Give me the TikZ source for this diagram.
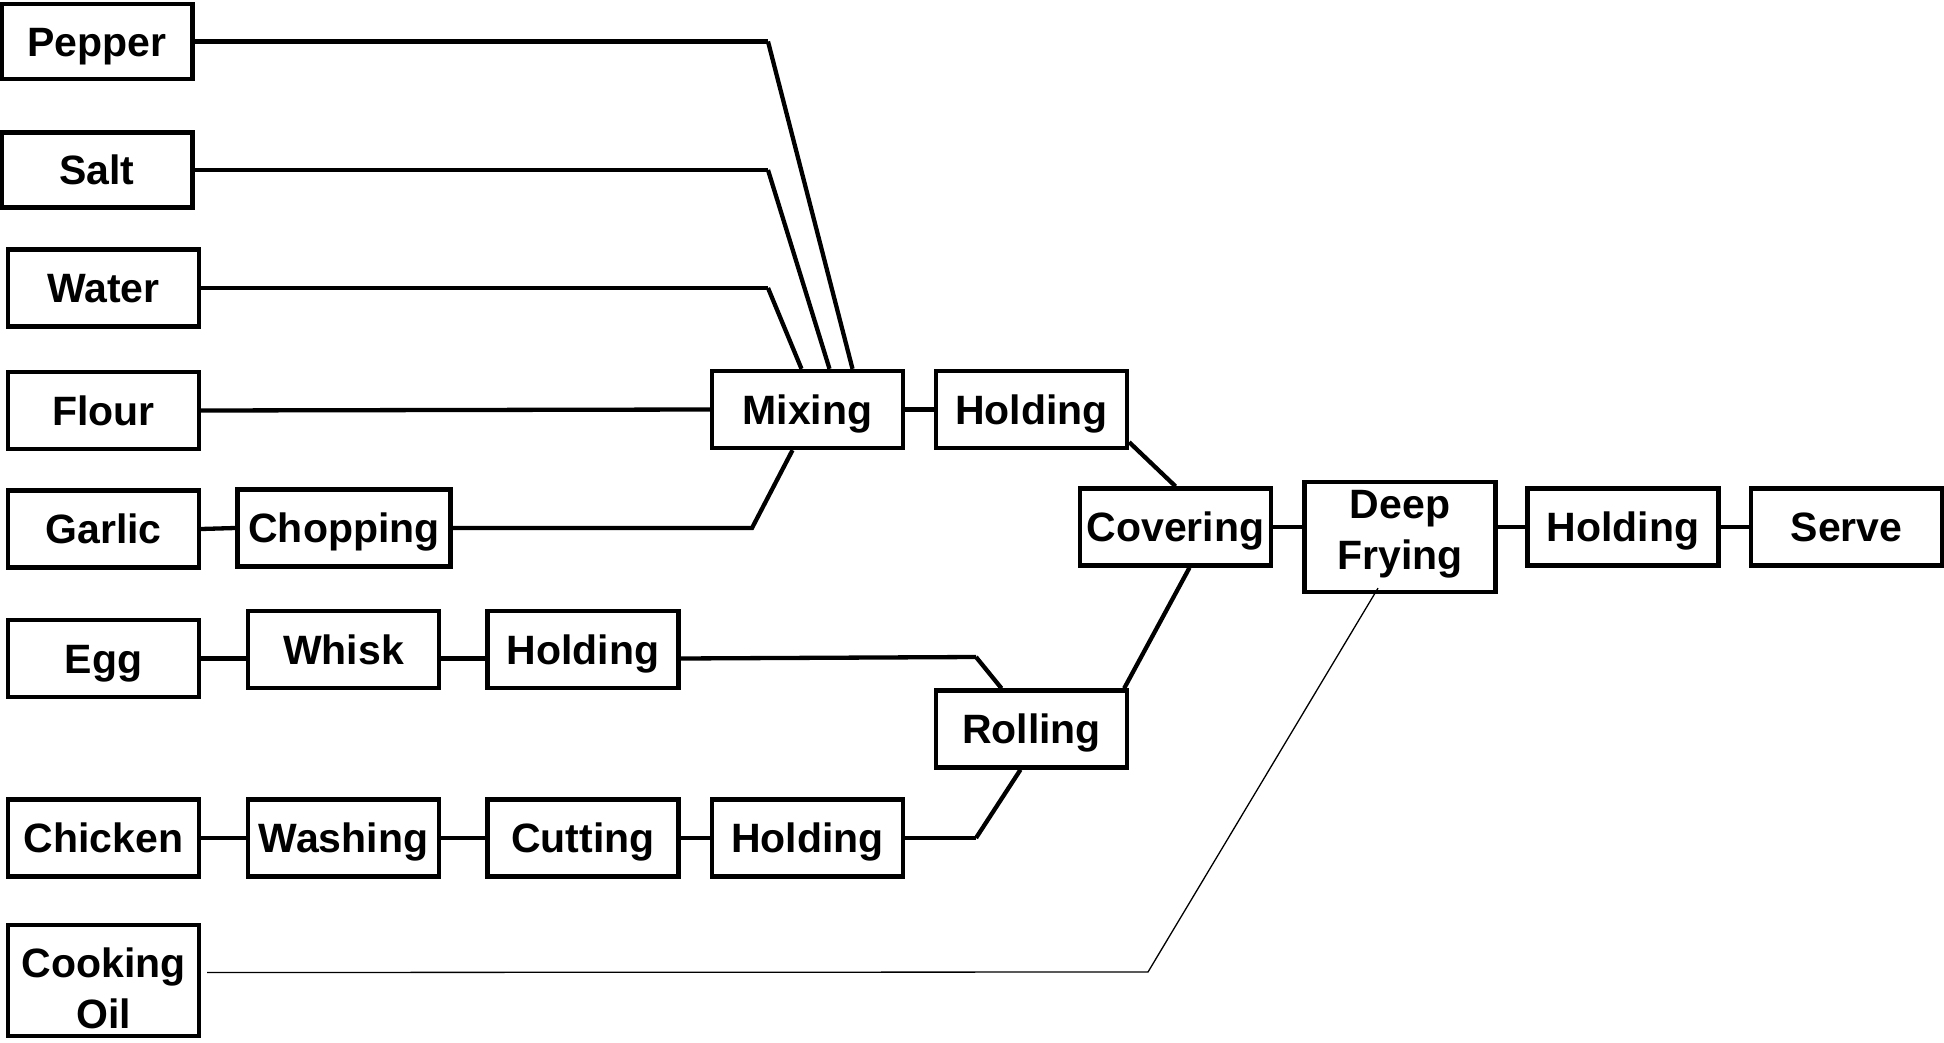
\documentclass[tikz,border=0pt]{standalone}
\usepackage{fontspec}
\setmainfont{Liberation Sans}
\begin{document}
\begin{tikzpicture}[x=1pt,y=-1pt,
  stepbox/.style={draw=black, line width=4.3pt, fill=white, inner sep=0pt,
    minimum width=191pt, minimum height=77pt, align=center,
    text height=29.5pt, text depth=0pt,
    font=\fontsize{41}{51}\selectfont\bfseries},
  link/.style={draw=black, line width=4.3pt},
  thinlink/.style={draw=black, line width=1.3pt}]
\useasboundingbox (0,0) rectangle (1944,1043);

% ingredient column
\node[stepbox, minimum height=75pt] (pepper)  at (97,41.5) {Pepper};
\node[stepbox, minimum height=75pt] (salt)    at (97,170)  {Salt};
\node[stepbox] (water)   at (103.5,288) {Water};
\node[stepbox] (flour)   at (103.5,410.5) {Flour};
\node[stepbox] (garlic)  at (103.5,529) {Garlic};
\node[stepbox] (egg)     at (103.5,658.5) {Egg};
\node[stepbox] (chicken) at (103.5,838) {Chicken};
\node[stepbox, text height=95.5pt, text depth=0pt, minimum height=111pt]
  (oil) at (103.5,980.5) {Cooking\\Oil};

% preparation steps
\node[stepbox, minimum width=213pt] (chopping) at (344,528) {Chopping};
\node[stepbox] (whisk)    at (343.5,649.5) {Whisk};
\node[stepbox] (holdegg)  at (583,649.5)   {Holding};
\node[stepbox] (washing)  at (343.5,838)   {Washing};
\node[stepbox] (cutting)  at (583,838)     {Cutting};
\node[stepbox] (holdmeat) at (807.5,838)   {Holding};

% batter and coating
\node[stepbox] (mixing)     at (807.5,409.5) {Mixing};
\node[stepbox] (holdbatter) at (1031.5,409.5) {Holding};
\node[stepbox] (rolling)    at (1031.5,729)  {Rolling};
\node[stepbox] (covering)   at (1175.5,527)  {Covering};

% frying and service
\node[stepbox, text height=80.5pt, text depth=16pt, minimum height=110pt]
  (deepfry) at (1400,537) {Deep\\Frying};
\node[stepbox] (holdfried) at (1623,527) {Holding};
\node[stepbox] (serve)     at (1846.5,527) {Serve};

% bend points of the feed lines
\coordinate (pepperbend)   at (768,41.5);
\coordinate (saltbend)     at (768,170);
\coordinate (waterbend)    at (768,288);
\coordinate (choppingbend) at (752,528);
\coordinate (eggbend)      at (976,657);
\coordinate (meatbend)     at (976,838);
\coordinate (oilbend)      at (1148,972);

% dry ingredients into mixing
\draw[link] (pepper.east) -- (pepperbend);
\draw[link] (pepperbend) -- ([xshift=45pt]mixing.north);
\draw[link] (salt.east) -- (saltbend);
\draw[link] (saltbend) -- ([xshift=22pt]mixing.north);
\draw[link] (water.east) -- (waterbend);
\draw[link] (waterbend) -- ([xshift=-6pt]mixing.north);
\draw[link] (flour.east) -- (mixing.west);
\draw[link] (garlic.east) -- (chopping.west);
\draw[link] (chopping.east) -- (choppingbend) -- ([xshift=-15pt]mixing.south);
\draw[link] (mixing.east) -- (holdbatter.west);
\draw[link] ([yshift=8pt]holdbatter.south east) -- (covering.north);

% egg line
\draw[link] (egg.east) -- (egg.east -| whisk.west);
\draw[link] (egg.east -| whisk.east) -- (egg.east -| holdegg.west);
\draw[link] (egg.east -| holdegg.east) -- (eggbend);
\draw[link] (eggbend) -- ([xshift=-30pt]rolling.north);

% chicken line
\draw[link] (chicken.east) -- (washing.west);
\draw[link] (washing.east) -- (cutting.west);
\draw[link] (cutting.east) -- (holdmeat.west);
\draw[link] (holdmeat.east) -- (meatbend);
\draw[link] (meatbend) -- ([xshift=-11pt]rolling.south);

% rolling into covering, then frying
\draw[link] ([xshift=-5pt]rolling.north east) -- ([xshift=14pt]covering.south);
\draw[link] (covering.east) -- (covering.east -| deepfry.west);
\draw[link] (holdfried.west -| deepfry.east) -- (holdfried.west);
\draw[link] (holdfried.east) -- (serve.west);

% cooking oil
\draw[thinlink] ([xshift=6pt,yshift=8pt]oil.east) -- (oilbend) -- ([xshift=-22pt,yshift=6pt]deepfry.south);
\end{tikzpicture}
\end{document}
